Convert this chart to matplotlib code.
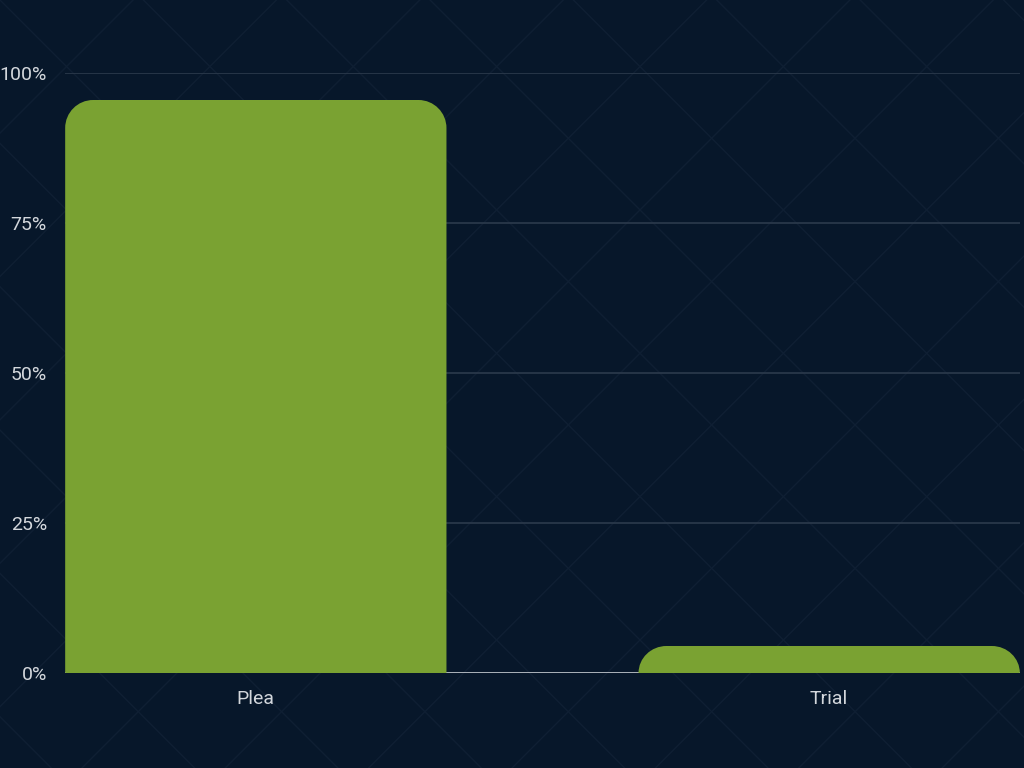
import matplotlib
matplotlib.use('Agg')
import matplotlib.pyplot as plt
from matplotlib.path import Path
from matplotlib.patches import PathPatch
from matplotlib.lines import Line2D

#data
categories = ['Plea', 'Trial']
shares = [95.5, 4.5]
yticks = [0, 25, 50, 75, 100]
ytick_labels = ['0%', '25%', '50%', '75%', '100%']

BG = '#07172a'
BAR = '#7aa232'
TXT = '#d3d7dc'

plt.rcParams['font.family'] = ['Roboto', 'DejaVu Sans']

fig = plt.figure(figsize=(10.24, 7.68), dpi=100, facecolor=BG)

#faint background chevron lines (decoration only)
for k in range(-8, 10):
    off = k * 0.14
    fig.add_artist(Line2D([off, off + 1.0], [1.0, 1.0 - 1024 / 768], color='#0f1f33', lw=1, zorder=0))
    fig.add_artist(Line2D([off + 0.5, off + 1.5], [0.0, 1024 / 768], color='#0f1f33', lw=1, zorder=0))

ax = fig.add_axes([65 / 1024, 95 / 768, 955 / 1024, 600 / 768])
ax.set_facecolor('none')

bar_w = 0.665
ax.set_xlim(-0.3328, 1.3328)
ax.set_ylim(0, 100)

#gridlines
for t in yticks[1:]:
    ax.axhline(t, color='#2c3a4c', lw=1.2, zorder=1)
ax.axhline(0, color='#c8cdd3', lw=1.2, zorder=1)

#bars with rounded top corners
rx = 28 / 574
for i, v in enumerate(shares):
    x0, x1 = i - bar_w / 2, i + bar_w / 2
    ry = min(28 / 6, v)
    k = 0.5523
    verts = [(x0, 0), (x0, v - ry),
             (x0, v - ry + k * ry), (x0 + rx - k * rx, v), (x0 + rx, v),
             (x1 - rx, v),
             (x1 - rx + k * rx, v), (x1, v - ry + k * ry), (x1, v - ry),
             (x1, 0), (x0, 0)]
    codes = [Path.MOVETO, Path.LINETO,
             Path.CURVE4, Path.CURVE4, Path.CURVE4,
             Path.LINETO,
             Path.CURVE4, Path.CURVE4, Path.CURVE4,
             Path.LINETO, Path.CLOSEPOLY]
    ax.add_patch(PathPatch(Path(verts, codes), facecolor=BAR, edgecolor='none', zorder=2))

ax.set_xticks(range(len(categories)))
ax.set_xticklabels(categories)
ax.set_yticks(yticks)
ax.set_yticklabels(ytick_labels)
ax.tick_params(axis='both', length=0, colors=TXT, labelsize=14)
ax.tick_params(axis='y', pad=13)
ax.tick_params(axis='x', pad=12)
for s in ax.spines.values():
    s.set_visible(False)

fig.savefig('out.png', dpi=100, facecolor=BG)
